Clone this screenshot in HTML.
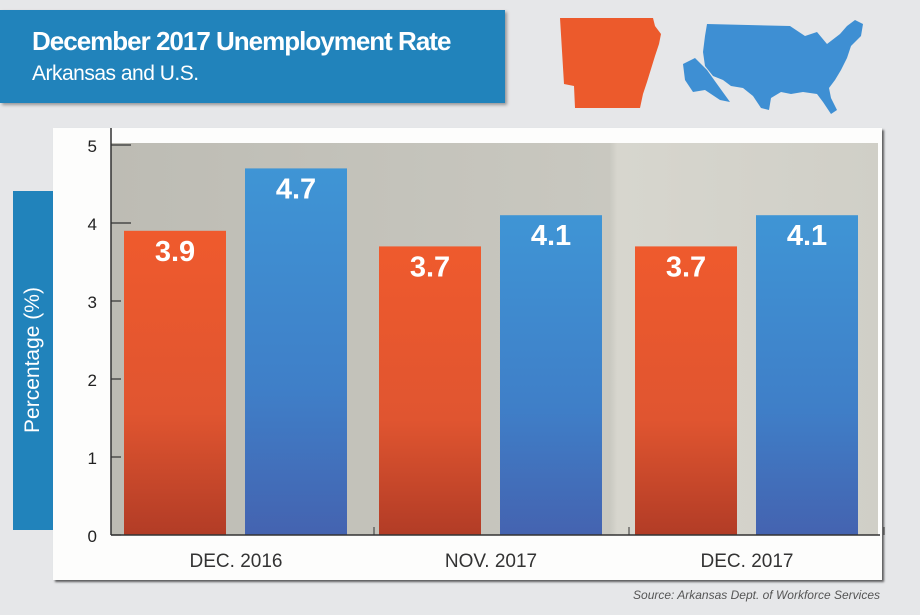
<!DOCTYPE html>
<html><head><meta charset="utf-8">
<style>
body{margin:0;width:920px;height:615px;background:#e6e7e9;position:relative;overflow:hidden;font-family:"Liberation Sans",sans-serif;}
.abs{position:absolute;}
</style></head>
<body>
<div class="abs" style="left:0;top:10px;width:505px;height:93px;background:#2183bb;box-shadow:2px 2px 3px rgba(0,0,0,.35);">
  <div style="position:absolute;left:32px;top:16px;color:#fff;font-weight:bold;font-size:26px;letter-spacing:-1px;">December 2017 Unemployment Rate</div>
  <div style="position:absolute;left:32px;top:52px;color:#fff;font-size:21px;letter-spacing:-0.5px;">Arkansas and U.S.</div>
</div>
<svg class="abs" style="left:555px;top:14px" width="330" height="105">
  <path d="M5,4 L98,4 L100,12 L106,20 L104,30 L100,42 L96,55 L92,68 L88,80 L85,94 L20,94 L19,72 L9,70 Z" fill="#ec5a2c"/>
  <path d="M152,10 L235,12 L250,22 L262,18 L272,30 L285,20 L292,12 L300,6 L308,10 L306,22 L296,32 L292,44 L286,56 L280,66 L274,74 L276,84 L282,96 L276,100 L268,88 L262,80 L248,78 L236,80 L226,78 L216,84 L214,96 L206,94 L198,82 L188,74 L176,72 L168,66 L158,62 L150,52 L148,38 L150,22 Z M128,50 L140,44 L152,56 L162,70 L175,88 L165,86 L150,76 L138,78 L130,66 Z" fill="#3e8fd3"/>
</svg>
<div class="abs" style="left:13px;top:191px;width:40px;height:339px;background:#2183bb;"></div>
<div class="abs" style="left:33px;top:360px;transform:translate(-50%,-50%) rotate(-90deg);color:#fff;font-size:21px;white-space:nowrap;">Percentage (%)</div>
<div class="abs" style="left:53px;top:128px;width:829px;height:452px;background:#fdfdfc;box-shadow:2px 2px 2px rgba(0,0,0,.6);"></div>
<div class="abs" style="left:111px;top:143px;width:767px;height:392px;background:linear-gradient(90deg,#bdbcb4 0%,#c9c8c0 65%,#d7d6ce 66%,#d0cfc7 100%);"></div>
<div class="abs" style="right:40px;top:588px;color:#555;font-style:italic;font-size:12px;">Source: Arkansas Dept. of Workforce Services</div>
<svg class="abs" style="left:0;top:0" width="920" height="615" id="chart">
<defs>
<linearGradient id="gOr" x1="0" y1="0" x2="0" y2="1"><stop offset="0" stop-color="#ef5a2d"/><stop offset="0.6" stop-color="#e05530"/><stop offset="1" stop-color="#b23c26"/></linearGradient>
<linearGradient id="gBl" x1="0" y1="0" x2="0" y2="1"><stop offset="0" stop-color="#3f95d5"/><stop offset="0.6" stop-color="#3f7fc8"/><stop offset="1" stop-color="#4463b0"/></linearGradient>
</defs>
</svg>
<script>
const categories=["DEC. 2016","NOV. 2017","DEC. 2017"];
const arkansas=[3.9,3.7,3.7];
const us=[4.7,4.1,4.1];
const ticks=[0,1,2,3,4,5];
const svg=document.getElementById('chart');
const NS='http://www.w3.org/2000/svg';
const y0=535,unit=78,x0=111,groupW=255;
const y=v=>y0-v*unit;
function mk(tag,a){const e=document.createElementNS(NS,tag);for(const k in a)e.setAttribute(k,a[k]);svg.appendChild(e);return e;}
ticks.forEach(t=>{
  const l=mk('line',{x1:x0,x2:x0+(t===4||t===5?20:10),y1:y(t),y2:y(t),stroke:'#333','stroke-width':1.2});
  
  
  const tx=mk('text',{x:97,y:y(t)+7,'text-anchor':'end','font-size':17,fill:'#222','font-family':'Liberation Sans, sans-serif'});
  tx.textContent=t;
  
  
});
categories.forEach((c,i)=>{
  const gx=x0+i*groupW+(i===2?1:0);
  [[arkansas[i],'url(#gOr)',13],[us[i],'url(#gBl)',134]].forEach(([v,f,off],j)=>{
    const r=mk('rect',{x:gx+off,y:y(v),width:102,height:y0-y(v),fill:f});
    
    
    const t=mk('text',{x:gx+off+51,y:y(v)+30,'text-anchor':'middle','font-size':29,'font-weight':'bold',fill:'#fff','font-family':'Liberation Sans, sans-serif'});
    t.textContent=v.toFixed(1);
    
    
  });
  const tk=mk('line',{x1:x0+(i+1)*groupW+8,x2:x0+(i+1)*groupW+8,y1:y0-8,y2:y0,stroke:'#333'});
  
  
  const lb=mk('text',{x:gx+125,y:567,'text-anchor':'middle','font-size':19,fill:'#333','font-family':'Liberation Sans, sans-serif'});
  lb.textContent=c;
  
  
});
const ax=mk('line',{x1:x0,x2:x0,y1:128,y2:y0,stroke:'#333','stroke-width':1.5});


const xa=mk('line',{x1:x0,x2:880,y1:y0,y2:y0,stroke:'#333','stroke-width':1.5});


</script>
</body></html>
